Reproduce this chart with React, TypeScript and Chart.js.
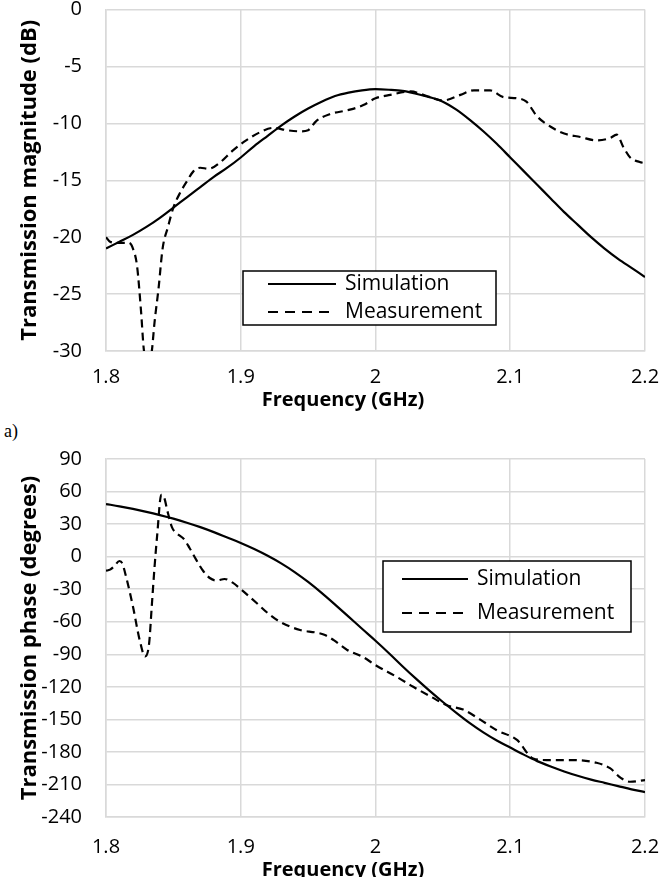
import React, { useEffect, useRef } from "react";
import { Chart, registerables } from "chart.js";

Chart.register(...registerables);

// ---------- Data ----------
const xTicks = [1.8, 1.9, 2, 2.1, 2.2];
const magTicks = [0, -5, -10, -15, -20, -25, -30];
const phaseTicks = [90, 60, 30, 0, -30, -60, -90, -120, -150, -180, -210, -240];

const simFreq = [
  1.8, 1.81, 1.82, 1.83, 1.84, 1.85, 1.86, 1.87, 1.88, 1.89, 1.9, 1.91, 1.92, 1.93, 1.94, 1.95, 1.96, 1.97,
  1.98, 1.99, 2.0, 2.01, 2.02, 2.03, 2.04, 2.05, 2.06, 2.07, 2.08, 2.09, 2.1, 2.11, 2.12, 2.13, 2.14, 2.15,
  2.16, 2.17, 2.18, 2.19, 2.2,
];
const simMag = [
  -21.0, -20.4, -19.8, -19.1, -18.3, -17.4, -16.5, -15.6, -14.7, -13.9, -13.0, -12.0, -11.1, -10.2, -9.4,
  -8.7, -8.1, -7.6, -7.3, -7.1, -7.0, -7.05, -7.15, -7.4, -7.7, -8.1, -8.8, -9.7, -10.7, -11.8, -13.0,
  -14.2, -15.4, -16.6, -17.8, -18.9, -20.0, -21.0, -21.9, -22.7, -23.5,
];
const simPhase = [
  48.5, 46.4, 44.0, 41.3, 38.3, 35.0, 31.3, 27.2, 22.6, 17.6, 12.6, 7.0, 0.8, -6.2, -14.2, -23.3, -33.4,
  -44.2, -55.3, -66.5, -77.5, -89, -101, -112.5, -123.5, -134, -144, -153.5, -162, -169.5, -176, -182.5,
  -188.5, -193.5, -198, -202, -205.5, -208.5, -211.5, -214.5, -217,
];

const measMagFreq = [
  1.8, 1.803, 1.808, 1.817, 1.82, 1.823, 1.826, 1.828, 1.831, 1.834, 1.836, 1.839, 1.842, 1.846, 1.85, 1.855,
  1.86, 1.865, 1.87, 1.876, 1.885, 1.894, 1.904, 1.914, 1.924, 1.934, 1.944, 1.95, 1.956, 1.966, 1.981, 1.991,
  2.0, 2.011, 2.026, 2.038, 2.05, 2.063, 2.073, 2.085, 2.095, 2.105, 2.112, 2.12, 2.13, 2.14, 2.152, 2.164,
  2.174, 2.179, 2.184, 2.189, 2.196, 2.2,
];
const measMag = [
  -20.0, -20.4, -20.5, -20.5, -21.0, -22.5, -26.5, -29.8, -31.5, -30.0, -27.5, -24.5, -21.0, -19.1, -17.4,
  -16.1, -15.1, -14.2, -13.9, -14.0, -13.4, -12.4, -11.5, -10.8, -10.4, -10.6, -10.7, -10.6, -9.8, -9.2,
  -8.8, -8.4, -7.8, -7.5, -7.2, -7.6, -8.0, -7.5, -7.1, -7.1, -7.7, -7.8, -8.1, -9.4, -10.3, -10.9, -11.2,
  -11.5, -11.3, -11.0, -12.1, -13.0, -13.4, -13.5,
];

const measPhaseFreq = [
  1.8, 1.803, 1.806, 1.81, 1.812, 1.815, 1.82, 1.825, 1.829, 1.832, 1.834, 1.836, 1.838, 1.841, 1.843, 1.846,
  1.849, 1.853, 1.858, 1.862, 1.867, 1.872, 1.877, 1.882, 1.888, 1.894, 1.9, 1.912, 1.92, 1.929, 1.944, 1.956,
  1.962, 1.969, 1.979, 1.99, 2.0, 2.016, 2.028, 2.041, 2.053, 2.065, 2.078, 2.09, 2.105, 2.117, 2.127, 2.144,
  2.164, 2.174, 2.182, 2.189, 2.2,
];
const measPhase = [
  -13, -12, -9, -4, -6, -19, -46, -77, -92, -80, -45, -10, 20, 57, 55, 40, 27, 21, 16, 8, -3, -13, -19.7, -22,
  -20.6, -24, -30, -43, -52, -60, -67.6, -70, -72, -77, -86, -92, -100, -111, -120, -129, -137, -141, -150.5,
  -160, -169, -186, -187.5, -187.5, -190, -195, -204, -207.5, -206,
];

const seriesNames = ["Simulation", "Measurement"];

// ---------- Styling ----------
const FONT = '"Open Sans", sans-serif';
const GRID = "#d9d9d9";

const overlayPlugin = {
  id: "overlay",
  afterDraw(chart: any, _args: any, opts: any) {
    const ctx = chart.ctx as CanvasRenderingContext2D;
    const ca = chart.chartArea;
    ctx.save();
    ctx.fillStyle = "#000";
    ctx.textAlign = "center";
    ctx.textBaseline = "middle";
    ctx.font = `bold ${opts.xTitleSize}px ${FONT}`;
    ctx.fillText(opts.xTitle, opts.xTitleX, opts.xTitleY);
    ctx.save();
    ctx.font = `bold ${opts.yTitleSize}px ${FONT}`;
    ctx.translate(opts.yTitleX, (ca.top + ca.bottom) / 2);
    ctx.rotate(-Math.PI / 2);
    ctx.fillText(opts.yTitle, 0, 0);
    ctx.restore();

    // legend
    const L = opts.legend;
    ctx.fillStyle = "#fff";
    ctx.fillRect(L.x, L.y, L.w, L.h);
    ctx.fillStyle = "#000";
    ctx.strokeStyle = "#000";
    ctx.lineWidth = 1.5;
    ctx.strokeRect(L.x, L.y, L.w, L.h);
    ctx.font = `${opts.legendSize}px ${FONT}`;
    ctx.textAlign = "left";
    chart.data.datasets.forEach((ds: any, i: number) => {
      const ry = L.rows[i];
      ctx.beginPath();
      ctx.lineWidth = 2.2;
      ctx.setLineDash(ds.borderDash && ds.borderDash.length ? [10, 7] : []);
      ctx.moveTo(L.lineX0, ry);
      ctx.lineTo(L.lineX1, ry);
      ctx.stroke();
      ctx.setLineDash([]);
      ctx.fillText(ds.label, L.textX, ry);
    });
    ctx.restore();
  },
};

function toPts(xs: number[], ys: number[]) {
  return xs.map((x, i) => ({ x, y: ys[i] }));
}

type Cfg = {
  width: number;
  height: number;
  areaTop: number;
  areaBottom: number;
  yMin: number;
  yMax: number;
  yTicks: number[];
  simY: number[];
  measX: number[];
  measY: number[];
  yTitle: string;
  xTickPad: number;
  xTitleY: number;
  legend: any;
};

function PlotCanvas({ cfg, top }: { cfg: Cfg; top: number }) {
  const ref = useRef<HTMLCanvasElement | null>(null);
  useEffect(() => {
    if (!ref.current) return;
    const left = 106;
    const right = 645;
    const chart = new Chart(ref.current, {
      type: "line",
      data: {
        datasets: [
          {
            label: seriesNames[0],
            data: toPts(simFreq, cfg.simY),
            borderColor: "#000",
            borderWidth: 2.2,
            pointRadius: 0,
            cubicInterpolationMode: "monotone",
            fill: false,
          },
          {
            label: seriesNames[1],
            data: toPts(cfg.measX, cfg.measY),
            borderColor: "#000",
            borderWidth: 2.2,
            borderDash: [8, 5],
            pointRadius: 0,
            cubicInterpolationMode: "monotone",
            fill: false,
          },
        ],
      } as any,
      options: {
        animation: false,
        responsive: false,
        devicePixelRatio: 1,
        layout: { padding: { left: 0, right: cfg.width - right, top: cfg.areaTop, bottom: 0 } },
        plugins: {
          legend: { display: false },
          tooltip: { enabled: false },
          overlay: {
            xTitle: "Frequency (GHz)",
            yTitle: cfg.yTitle,
            xTitleSize: 20,
            yTitleSize: 22,
            legendSize: 21,
            xTitleX: 343,
            xTitleY: cfg.xTitleY,
            yTitleX: 30,
            legend: cfg.legend,
          },
        } as any,
        scales: {
          x: {
            type: "linear",
            min: 1.8,
            max: 2.2,
            afterBuildTicks: (s: any) => {
              s.ticks = xTicks.map((v) => ({ value: v }));
            },
            afterFit: (s: any) => {
              s.height = cfg.height - cfg.areaBottom;
              s.paddingLeft = 0;
              s.paddingRight = 0;
              s.paddingTop = 0;
              s.paddingBottom = 0;
            },
            ticks: {
              callback: (v: any) => String(Number(Number(v).toFixed(1))),
              color: "#000",
              font: { family: FONT, size: 20 },
              padding: cfg.xTickPad,
              maxRotation: 0,
              autoSkip: false,
            },
            grid: { color: GRID, lineWidth: 1.5, drawTicks: false },
            border: { color: GRID, width: 1.5 },
          },
          y: {
            type: "linear",
            min: cfg.yMin,
            max: cfg.yMax,
            afterBuildTicks: (s: any) => {
              s.ticks = cfg.yTicks.map((v) => ({ value: v }));
            },
            afterFit: (s: any) => {
              s.width = left;
              s.paddingLeft = 0;
              s.paddingRight = 0;
              s.paddingTop = 0;
              s.paddingBottom = 0;
            },
            ticks: {
              color: "#000",
              font: { family: FONT, size: 20 },
              padding: 24,
              autoSkip: false,
            },
            grid: { color: GRID, lineWidth: 1.5, drawTicks: false },
            border: { color: GRID, width: 1.5 },
          },
        },
      } as any,
      plugins: [overlayPlugin as any],
    });
    return () => chart.destroy();
  }, [cfg]);
  return (
    <canvas
      ref={ref}
      width={cfg.width}
      height={cfg.height}
      style={{ position: "absolute", left: 0, top, width: cfg.width, height: cfg.height }}
    />
  );
}

const magCfg: Cfg = {
  width: 663,
  height: 412,
  areaTop: 9.5,
  areaBottom: 351,
  yMin: -30,
  yMax: 0,
  yTicks: magTicks,
  simY: simMag,
  measX: measMagFreq,
  measY: measMag,
  yTitle: "Transmission magnitude (dB)",
  xTickPad: 14,
  xTitleY: 400,
  legend: { x: 243, y: 271, w: 253, h: 54, rows: [284, 312], lineX0: 268, lineX1: 336, textX: 345 },
};

const phaseTop = 440;
const phaseCfg: Cfg = {
  width: 663,
  height: 437,
  areaTop: 459 - phaseTop,
  areaBottom: 817 - phaseTop,
  yMin: -240,
  yMax: 90,
  yTicks: phaseTicks,
  simY: simPhase,
  measX: measPhaseFreq,
  measY: measPhase,
  yTitle: "Transmission phase (degrees)",
  xTickPad: 18,
  xTitleY: 870 - phaseTop,
  legend: {
    x: 383,
    y: 561 - phaseTop,
    w: 248,
    h: 71,
    rows: [579 - phaseTop, 613 - phaseTop],
    lineX0: 402,
    lineX1: 468,
    textX: 477,
  },
};

export default function App() {
  return (
    <div style={{ position: "absolute", left: 0, top: 0, width: 663, height: 877, background: "#fff" }}>
      <PlotCanvas cfg={magCfg} top={0} />
      <div
        style={{
          position: "absolute",
          left: 4,
          top: 421,
          fontFamily: '"Liberation Serif", "Times New Roman", serif',
          fontSize: 18,
          lineHeight: "20px",
          color: "#000",
        }}
      >
        a)
      </div>
      <PlotCanvas cfg={phaseCfg} top={phaseTop} />
    </div>
  );
}
